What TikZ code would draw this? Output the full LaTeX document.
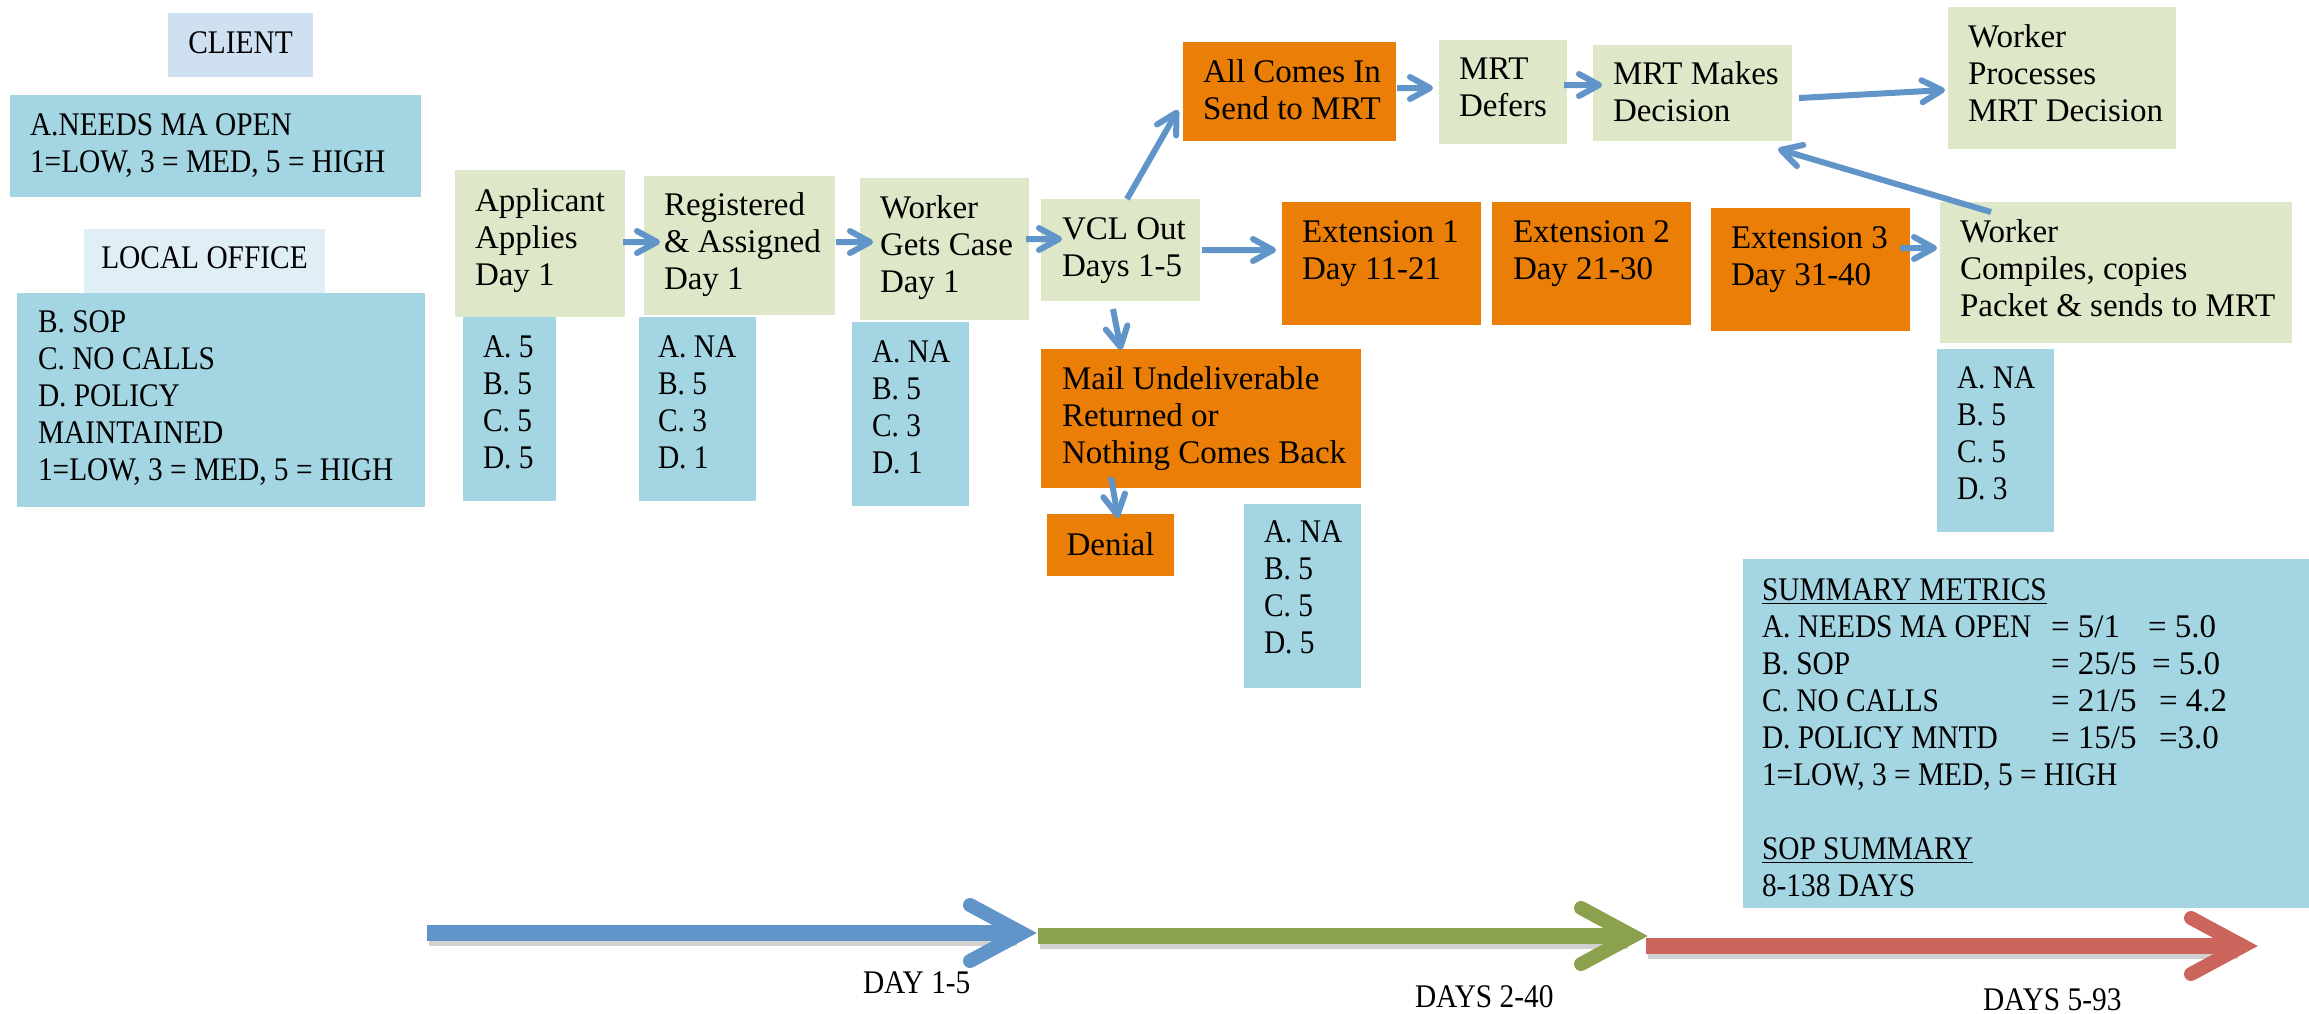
\documentclass[tikz,border=0pt]{standalone}
\usepackage{fontspec}
\setmainfont{Liberation Serif}
\newfontfamily\capsf[FakeStretch=0.89]{Liberation Serif}
\usetikzlibrary{arrows.meta,calc}

\definecolor{boxgreen}{RGB}{223,231,201}
\definecolor{boxorange}{RGB}{234,126,6}
\definecolor{boxmetric}{RGB}{164,213,227}
\definecolor{boxclient}{RGB}{207,224,241}
\definecolor{boxlocal}{RGB}{224,239,246}
\definecolor{arrowblue}{RGB}{97,148,200}
\definecolor{tlblue}{RGB}{97,149,201}
\definecolor{tlgreen}{RGB}{139,161,77}
\definecolor{tlred}{RGB}{204,102,92}

\newcommand\fs{\fontsize{16.5bp}{18.5bp}\selectfont}
\newcommand\lns[1]{\begin{tabular}[t]{@{}l@{}}#1\end{tabular}}

\tikzset{
  panel/.style={inner sep=0, outer sep=0, draw=none, anchor=north west},
  txt/.style={inner sep=0, outer sep=0, font=\fs, anchor=base west, text=black},
  ctxt/.style={txt, font=\fs\capsf},
  conn/.style={draw=arrowblue, line width=3bp,
    -{Straight Barb[length=10bp,width=11bp,round]}},
  tshaft/.style={line width=8bp},
  tshadow/.style={line width=8bp, black, opacity=0.18},
  thead/.style={line width=7bp, line cap=round, line join=miter},
}

\begin{document}
\begin{tikzpicture}[x=0.5bp, y=-0.5bp]
\useasboundingbox (0,0) rectangle (2309,1013);

% ---------- legend panels ----------
\node[panel, fill=boxclient, minimum width=72.5bp, minimum height=32bp] (client) at (168,13) {};
\node[ctxt, anchor=base] (client-t) at (240.5,53) {CLIENT};
\node[panel, fill=boxmetric, minimum width=205.5bp, minimum height=51bp] (needs) at (10,95) {};
\node[ctxt] (needs-t) at (30,135) {\lns{A.NEEDS MA OPEN\\1=LOW, 3 = MED, 5 = HIGH}};
\node[panel, fill=boxlocal, minimum width=120.5bp, minimum height=32bp] (local) at (84,229) {};
\node[ctxt, anchor=base] (local-t) at (204.5,268) {LOCAL OFFICE};
\node[panel, fill=boxmetric, minimum width=204bp, minimum height=107bp] (localbox) at (17,293) {};
\node[ctxt] (localbox-t) at (38,332) {\lns{B. SOP\\C. NO CALLS\\D. POLICY\\MAINTAINED\\1=LOW, 3 = MED, 5 = HIGH}};

% ---------- process steps ----------
\node[panel, fill=boxgreen, minimum width=85bp, minimum height=73.5bp] (applicant) at (455,170) {};
\node[txt] (applicant-t) at (475,211) {\lns{Applicant\\Applies\\Day 1}};
\node[panel, fill=boxmetric, minimum width=46.5bp, minimum height=92bp] (mA) at (463,317) {};
\node[ctxt] (mA-t) at (483,357) {\lns{A. 5\\B. 5\\C. 5\\D. 5}};

\node[panel, fill=boxgreen, minimum width=95.5bp, minimum height=69.5bp] (registered) at (644,176) {};
\node[txt] (registered-t) at (664,215) {\lns{Registered\\\& Assigned\\Day 1}};
\node[panel, fill=boxmetric, minimum width=58.5bp, minimum height=92bp] (mB) at (639,317) {};
\node[ctxt] (mB-t) at (658,357) {\lns{A. NA\\B. 5\\C. 3\\D. 1}};

\node[panel, fill=boxgreen, minimum width=84.5bp, minimum height=71bp] (worker) at (860,178) {};
\node[txt] (worker-t) at (880,218) {\lns{Worker\\Gets Case\\Day 1}};
\node[panel, fill=boxmetric, minimum width=58.5bp, minimum height=92bp] (mC) at (852,322) {};
\node[ctxt] (mC-t) at (872,362) {\lns{A. NA\\B. 5\\C. 3\\D. 1}};

\node[panel, fill=boxgreen, minimum width=79.5bp, minimum height=51bp] (vcl) at (1041,199) {};
\node[txt] (vcl-t) at (1062,239) {\lns{VCL Out\\Days 1-5}};

\node[panel, fill=boxorange, minimum width=106.5bp, minimum height=49.5bp] (allin) at (1183,42) {};
\node[txt] (allin-t) at (1203,82) {\lns{All Comes In\\Send to MRT}};
\node[panel, fill=boxgreen, minimum width=64bp, minimum height=52bp] (defers) at (1439,40) {};
\node[txt] (defers-t) at (1459,79) {\lns{MRT\\Defers}};
\node[panel, fill=boxgreen, minimum width=99.5bp, minimum height=48bp] (decision) at (1593,45) {};
\node[txt] (decision-t) at (1613,84) {\lns{MRT Makes\\Decision}};
\node[panel, fill=boxgreen, minimum width=114bp, minimum height=71bp] (processes) at (1948,7) {};
\node[txt] (processes-t) at (1968,47) {\lns{Worker\\Processes\\MRT Decision}};

\node[panel, fill=boxorange, minimum width=99.5bp, minimum height=61.5bp] (ext1) at (1282,202) {};
\node[txt] (ext1-t) at (1302,242) {\lns{Extension 1\\Day 11-21}};
\node[panel, fill=boxorange, minimum width=99.5bp, minimum height=61.5bp] (ext2) at (1492,202) {};
\node[txt] (ext2-t) at (1513,242) {\lns{Extension 2\\Day 21-30}};
\node[panel, fill=boxorange, minimum width=99.5bp, minimum height=61.5bp] (ext3) at (1711,208) {};
\node[txt] (ext3-t) at (1731,248) {\lns{Extension 3\\Day 31-40}};

\node[panel, fill=boxgreen, minimum width=176bp, minimum height=70.5bp] (compiles) at (1940,202) {};
\node[txt] (compiles-t) at (1960,242) {\lns{Worker\\Compiles, copies\\Packet \& sends to MRT}};
\node[panel, fill=boxmetric, minimum width=58.5bp, minimum height=91.5bp] (mD) at (1937,349) {};
\node[ctxt] (mD-t) at (1957,388) {\lns{A. NA\\B. 5\\C. 5\\D. 3}};

\node[panel, fill=boxorange, minimum width=160bp, minimum height=69.5bp] (mail) at (1041,349) {};
\node[txt] (mail-t) at (1062,389) {\lns{Mail Undeliverable\\Returned or\\Nothing Comes Back}};
\node[panel, fill=boxorange, minimum width=63.5bp, minimum height=31bp] (denial) at (1047,514) {};
\node[txt, anchor=base] (denial-t) at (1110.5,555) {Denial};
\node[panel, fill=boxmetric, minimum width=58.5bp, minimum height=92bp] (mE) at (1244,504) {};
\node[ctxt] (mE-t) at (1264,542) {\lns{A. NA\\B. 5\\C. 5\\D. 5}};

% ---------- summary ----------
\node[panel, fill=boxmetric, minimum width=283bp, minimum height=174.5bp] (summary) at (1743,559) {};
\node[ctxt] (summary-t) at (1762,600) {%
\begin{tabular}[t]{@{}l@{}l@{}}
\multicolumn{2}{@{}l@{}}{\underline{SUMMARY METRICS}}\\
\makebox[144.5bp][l]{A. NEEDS MA OPEN} & {\rmfamily\makebox[48.5bp][l]{= 5/1}= 5.0}\\
\makebox[144.5bp][l]{B. SOP} & {\rmfamily\makebox[50.5bp][l]{= 25/5}= 5.0}\\
\makebox[144.5bp][l]{C. NO CALLS} & {\rmfamily\makebox[54bp][l]{= 21/5}= 4.2}\\
\makebox[144.5bp][l]{D. POLICY MNTD} & {\rmfamily\makebox[54bp][l]{= 15/5}=3.0}\\
\multicolumn{2}{@{}l@{}}{1=LOW, 3 = MED, 5 = HIGH}\\
\multicolumn{2}{@{}l@{}}{}\\
\multicolumn{2}{@{}l@{}}{\underline{SOP SUMMARY}}\\
\multicolumn{2}{@{}l@{}}{8-138 DAYS}
\end{tabular}};

% ---------- connectors ----------
\draw[conn] ($(applicant.east)+(-2,-1.5)$) -- ($(registered.west)+(16,-3.5)$);
\draw[conn] ($(registered.east)+(1,-3.5)$) -- ($(worker.west)+(13,-7)$);
\draw[conn] ($(worker.east)+(-3,-10)$) -- ($(vcl.west)+(21,-11)$);
\draw[conn] ($(vcl.north)+(6.5,0)$) -- ($(allin.south west)+(-5,-31)$);
\draw[conn] ($(allin.east)+(1,-3.5)$) -- ($(defers.west)+(-6,-4)$);
\draw[conn] ($(defers.east)+(-3,-7)$) -- ($(decision.west)+(9,-8)$);
\draw[conn] ($(decision.east)+(7,5)$) -- ($(processes.west)+(-3,12)$);
\draw[conn] ($(compiles.north)+(-125,10)$) -- ($(decision.south east)+(-14,8)$);
\draw[conn] ($(vcl.east)+(2,0)$) -- ($(ext1.west)+(-6,-13.5)$);
\draw[conn] ($(vcl.south)+(-7.5,8)$) -- ($(mail.north)+(-80,1)$);
\draw[conn] ($(mail.south)+(-90,-11)$) -- ($(denial.north)+(7.5,4)$);
\draw[conn] ($(ext3.east)+(-10,-21.5)$) -- ($(compiles.west)+(-3,-24.5)$);

% ---------- timeline ----------
\coordinate (b0) at (427,933);  \coordinate (b1) at (1037,933);
\coordinate (g0) at (1038,936); \coordinate (g1) at (1648,936);
\coordinate (r0) at (1646,946); \coordinate (r1) at (2258,946);

\draw[tshadow] ($(b0)+(2,5)$) -- ($(b1)+(-20,5)$);
\draw[tshaft, tlblue] (b0) -- ($(b1)+(-14,0)$);
\draw[thead, tlblue] ($(b1)+(-67,-28)$) -- ($(b1)+(-15,0)$) -- ($(b1)+(-67,28)$);

\draw[tshadow] ($(g0)+(2,5)$) -- ($(g1)+(-20,5)$);
\draw[tshaft, tlgreen] (g0) -- ($(g1)+(-14,0)$);
\draw[thead, tlgreen] ($(g1)+(-67,-28)$) -- ($(g1)+(-15,0)$) -- ($(g1)+(-67,28)$);

\draw[tshadow] ($(r0)+(2,5)$) -- ($(r1)+(-20,5)$);
\draw[tshaft, tlred] (r0) -- ($(r1)+(-14,0)$);
\draw[thead, tlred] ($(r1)+(-67,-28)$) -- ($(r1)+(-15,0)$) -- ($(r1)+(-67,28)$);

\node[ctxt] (day1) at (863,993) {DAY 1-5};
\node[ctxt] (day2) at (1415,1007) {DAYS 2-40};
\node[ctxt] (day3) at (1983,1010) {DAYS 5-93};
\end{tikzpicture}
\end{document}
